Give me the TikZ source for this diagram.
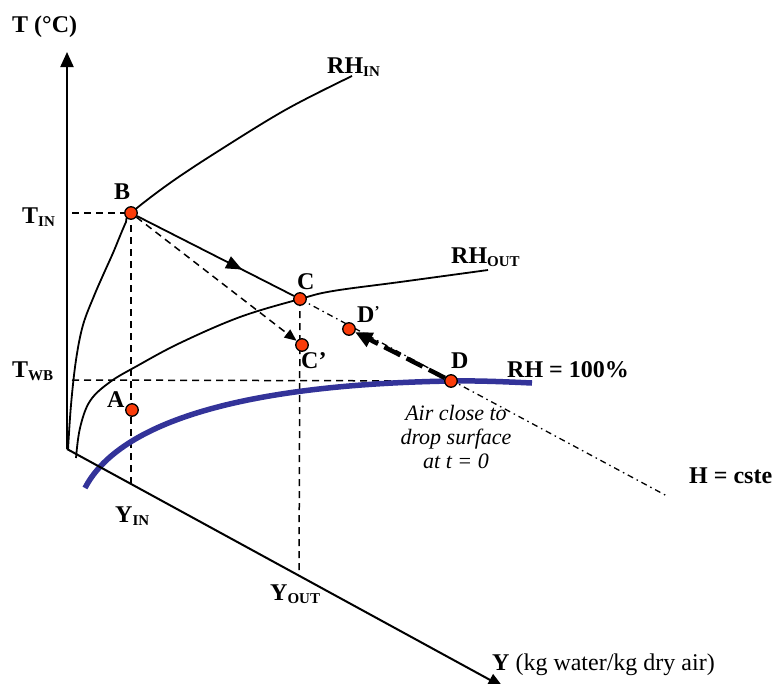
\documentclass[tikz,border=0pt]{standalone}
\usepackage{fontspec}
\setmainfont{Liberation Serif}
\usetikzlibrary{arrows.meta,decorations.markings}
\definecolor{ptred}{RGB}{250,60,10}
\definecolor{rhblue}{RGB}{51,51,153}
\newcommand\lsub[1]{\raisebox{-3pt}{\fontsize{15}{15}\selectfont\bfseries #1}}
\pgfdeclarelayer{bg}
\pgfsetlayers{bg,main}
\begin{document}
\begin{tikzpicture}[x=1pt,y=-1pt,
  lbl/.style={font=\fontsize{24}{26}\selectfont\bfseries, inner sep=0pt, anchor=base west},
  ptnode/.style={circle, draw=black, line width=1.3pt, fill=ptred, minimum size=12.5pt, inner sep=0pt},
  axisline/.style={line width=2pt, -{Triangle[length=15pt,width=13pt]}},
  guide/.style={line width=1.5pt, dash pattern=on 7pt off 5pt},
  curveline/.style={line width=1.8pt},
  dashdot/.style={line width=1.3pt, dash pattern=on 6pt off 4pt on 1.5pt off 4pt},
  note/.style={font=\fontsize{22}{24}\selectfont\itshape, inner sep=0pt, anchor=base}]
\useasboundingbox (0,0) rectangle (778,683);

% axes coordinates
\coordinate (o) at (67,449);
\coordinate (ttip) at (67,52);
\coordinate (ytip) at (503,687);
\coordinate (yin) at (131,483);
\coordinate (yout) at (299,575);
\coordinate (tin) at (72,213);
\coordinate (twb) at (72,380);
\coordinate (hend) at (667,496);

% points
\node[ptnode] (B) at (131,213) {};
\node[ptnode] (C) at (300,299) {};
\node[ptnode] (Cp) at (302,345) {};
\node[ptnode] (Dp) at (349,329) {};
\node[ptnode] (D) at (451,381) {};
\node[ptnode] (A) at (132,410) {};

\begin{pgfonlayer}{bg}
  % guides
  \draw[guide] (tin) -- (B.center);
  \draw[guide] (twb) -- (D.center);
  \draw[guide] (B.center) -- (yin);
  \draw[guide] (C.center) -- (yout);
  % RH curves
  \draw[curveline] plot[smooth, tension=0.6] coordinates {(68,450) (71,405) (76,360) (83,325) (94,296) (104,273) (113,253) (120,236) (126,222) (131,213) (170,183) (220,150) (287,109) (352,76)};
  \draw[curveline] plot[smooth, tension=0.6] coordinates {(76,458) (80,428) (90,401) (110,382) (137,366) (180,343) (240,317) (300,299) (333,291) (400,282) (488,270)};
  \draw[rhblue, line width=5.5pt] (85,488) .. controls (115,430) and (220,385) .. (451,381) .. controls (480,380.5) and (510,382) .. (532,383);
  % H = cste line
  \draw[dashdot] (C.center) -- (hend);
  % axes
  \draw[axisline] (o) -- (ttip);
  \draw[axisline] (o) -- (ytip);
\end{pgfonlayer}

% process arrows
\draw[curveline, postaction={decorate}, decoration={markings, mark=at position 0.67 with {\arrow{Triangle[length=16pt,width=13pt]}}}] (B) -- (C);
\draw[guide, -{Triangle[length=12pt,width=10pt]}] (B) -- (Cp);
\draw[line width=4.5pt, dash pattern=on 18pt off 7pt, -{Triangle[length=17pt,width=15pt]}] (D) -- (Dp);

% labels
\node[lbl] (lT) at (12,32) {T (°C)};
\node[lbl] (lTin) at (22,223) {T\lsub{IN}};
\node[lbl] (lTwb) at (12,377) {T\lsub{WB}};
\node[lbl] (lYin) at (115,522) {Y\lsub{IN}};
\node[lbl] (lYout) at (270,600) {Y\lsub{OUT}};
\node[lbl] (lRHin) at (327,73) {RH\lsub{IN}};
\node[lbl] (lRHout) at (451,263) {RH\lsub{OUT}};
\node[lbl] (lB) at (114,199) {B};
\node[lbl] (lC) at (297,289) {C};
\node[lbl] (lCp) at (301,368) {C’};
\node[lbl] (lDp) at (357,322) {D\raisebox{6pt}{\fontsize{15}{15}\selectfont ’}};
\node[lbl] (lD) at (451,368) {D};
\node[lbl] (lA) at (107,407) {A};
\node[lbl] (lRH) at (507,377) {RH = 100\%};
\node[lbl] (lH) at (689,483) {H = cste};
\node[lbl] (lY) at (492,670) {Y {\mdseries (kg water/kg dry air)}};
\node[note] (air1) at (456,420) {Air close to};
\node[note] (air2) at (456,444) {drop surface};
\node[note] (air3) at (456,468) {at t = 0};
\end{tikzpicture}
\end{document}
